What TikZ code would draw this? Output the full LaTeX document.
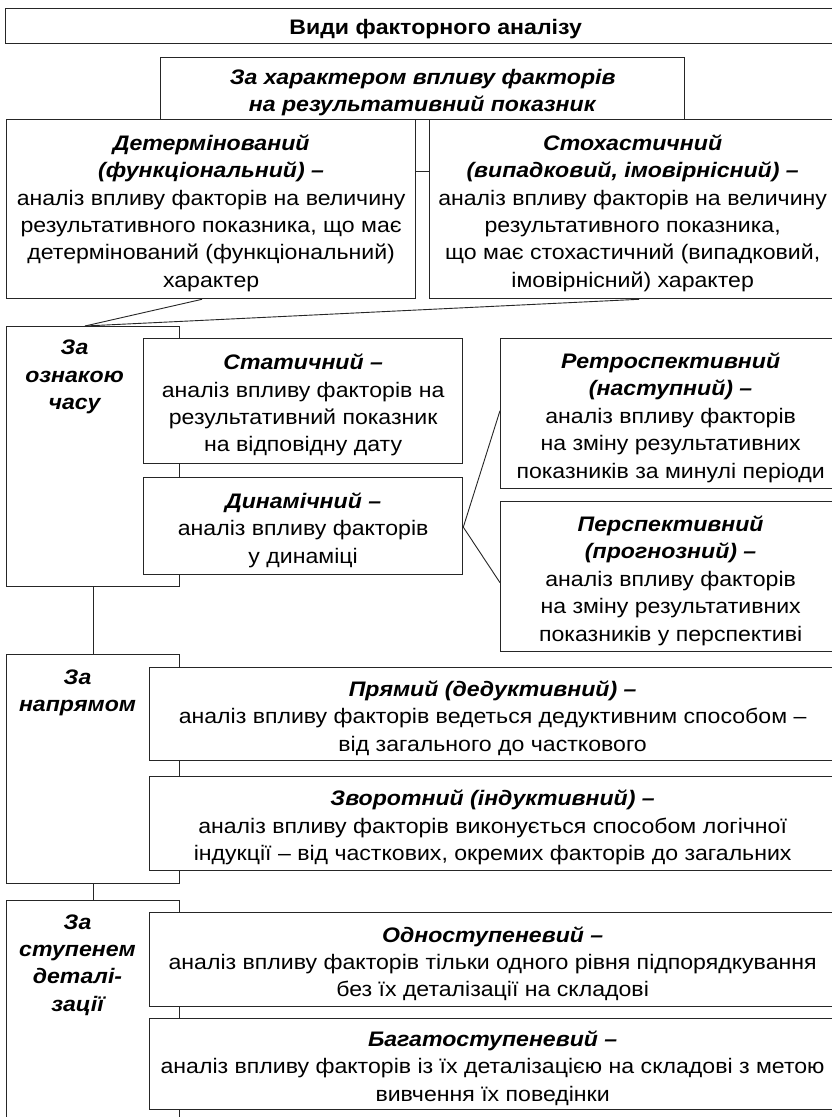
\documentclass[tikz,border=0pt]{standalone}
\usepackage{fontspec}
\setmainfont{Liberation Sans}[FakeStretch=1.1]
\begin{document}
\begin{tikzpicture}[x=1pt,y=-1pt,
  box/.style={draw=black!85, line width=1.3pt, fill=white, inner sep=0pt, anchor=north west},
  txt/.style={align=center, inner sep=0pt, text=black, font=\fontsize{21}{27.4}\selectfont, yshift=-4pt},
  lbl/.style={align=center, inner sep=0pt, text=black, font=\fontsize{21}{27.4}\selectfont\bfseries\itshape},
  conn/.style={draw=black!85, line width=0.9pt}]
\path[use as bounding box, fill=white] (0,0) rectangle (832,1117);

% title and first criterion
\node[box, minimum width=860pt, minimum height=35pt] (title) at (5,8) {};
\node[txt, yshift=1pt] (title-t) at (title.center) {\textbf{Види факторного аналізу}};
\node[box, minimum width=524pt, minimum height=62pt] (char) at (160,57) {};
\node[txt] (char-t) at (char.center)
  {\textbf{\textit{За характером впливу факторів}}\\\textbf{\textit{на результативний показник}}};
\node[box, minimum width=409pt, minimum height=179pt] (det) at (6,119) {};
\node[txt] (det-t) at (det.center)
  {\textbf{\textit{Детермінований}}\\\textbf{\textit{(функціональний) –}}\\аналіз впливу факторів на величину\\результативного показника, що має\\детермінований (функціональний)\\характер};
\node[box, minimum width=406pt, minimum height=179pt] (stoch) at (429,119) {};
\node[txt] (stoch-t) at (stoch.center)
  {\textbf{\textit{Стохастичний}}\\\textbf{\textit{(випадковий, імовірнісний) –}}\\аналіз впливу факторів на величину\\результативного показника,\\що має стохастичний (випадковий,\\імовірнісний) характер};
\draw[conn] ([yshift=-52pt]det.north east) -- ([yshift=-52pt]stoch.north west);

% time
\node[box, minimum width=173pt, minimum height=260pt] (time) at (6,326) {};
\coordinate (tjoin) at ([xshift=79pt]time.north west);
\draw[conn] ([xshift=196pt]det.south west) -- (tjoin);
\draw[conn] ([xshift=210pt]stoch.south west) -- (tjoin);
\node[lbl] (timelbl) at (74.5,377) {За\\ознакою\\часу};
\node[box, minimum width=319pt, minimum height=125pt] (stat) at (143,338) {};
\node[txt] (stat-t) at (stat.center)
  {\textbf{\textit{Статичний –}}\\аналіз впливу факторів на\\результативний показник\\на відповідну дату};
\node[box, minimum width=319pt, minimum height=97pt] (dyn) at (143,477) {};
\node[txt] (dyn-t) at (dyn.center)
  {\textbf{\textit{Динамічний –}}\\аналіз впливу факторів\\у динаміці};
\node[box, minimum width=340pt, minimum height=150pt] (retro) at (500,338) {};
\node[txt] (retro-t) at (retro.center)
  {\textbf{\textit{Ретроспективний}}\\\textbf{\textit{(наступний) –}}\\аналіз впливу факторів\\на зміну результативних\\показників за минулі періоди};
\node[box, minimum width=340pt, minimum height=150pt] (persp) at (500,501) {};
\node[txt] (persp-t) at (persp.center)
  {\textbf{\textit{Перспективний}}\\\textbf{\textit{(прогнозний) –}}\\аналіз впливу факторів\\на зміну результативних\\показників у перспективі};
\draw[conn] ([yshift=-1pt]dyn.east) -- ([yshift=3pt]retro.west);
\draw[conn] ([yshift=-1pt]dyn.east) -- ([yshift=-6pt]persp.west);

% direction
\node[box, minimum width=173pt, minimum height=229pt] (dir) at (6,654) {};
\draw[conn] (time.south) -- (dir.north);
\node[lbl] (dirlbl) at (77.5,693) {За\\напрямом};
\node[box, minimum width=686pt, minimum height=93pt] (pryam) at (149,667) {};
\node[txt] (pryam-t) at (pryam.center)
  {\textbf{\textit{Прямий (дедуктивний) –}}\\аналіз впливу факторів ведеться дедуктивним способом –\\від загального до часткового};
\node[box, minimum width=686pt, minimum height=94pt] (zvor) at (149,776) {};
\node[txt] (zvor-t) at (zvor.center)
  {\textbf{\textit{Зворотний (індуктивний) –}}\\аналіз впливу факторів виконується способом логічної\\індукції – від часткових, окремих факторів до загальних};

% level of detail
\node[box, minimum width=173pt, minimum height=240pt] (lvl) at (6,900) {};
\draw[conn] (dir.south) -- (lvl.north);
\node[lbl] (lvllbl) at (77.5,965) {За\\ступенем\\деталі-\\зації};
\node[box, minimum width=686pt, minimum height=94pt] (odno) at (149,912) {};
\node[txt] (odno-t) at (odno.center)
  {\textbf{\textit{Одноступеневий –}}\\аналіз впливу факторів тільки одного рівня підпорядкування\\без їх деталізації на складові};
\node[box, minimum width=686pt, minimum height=91pt] (bagato) at (149,1018) {};
\node[txt] (bagato-t) at (bagato.center)
  {\textbf{\textit{Багатоступеневий –}}\\аналіз впливу факторів із їх деталізацією на складові з метою\\вивчення їх поведінки};
\end{tikzpicture}
\end{document}
